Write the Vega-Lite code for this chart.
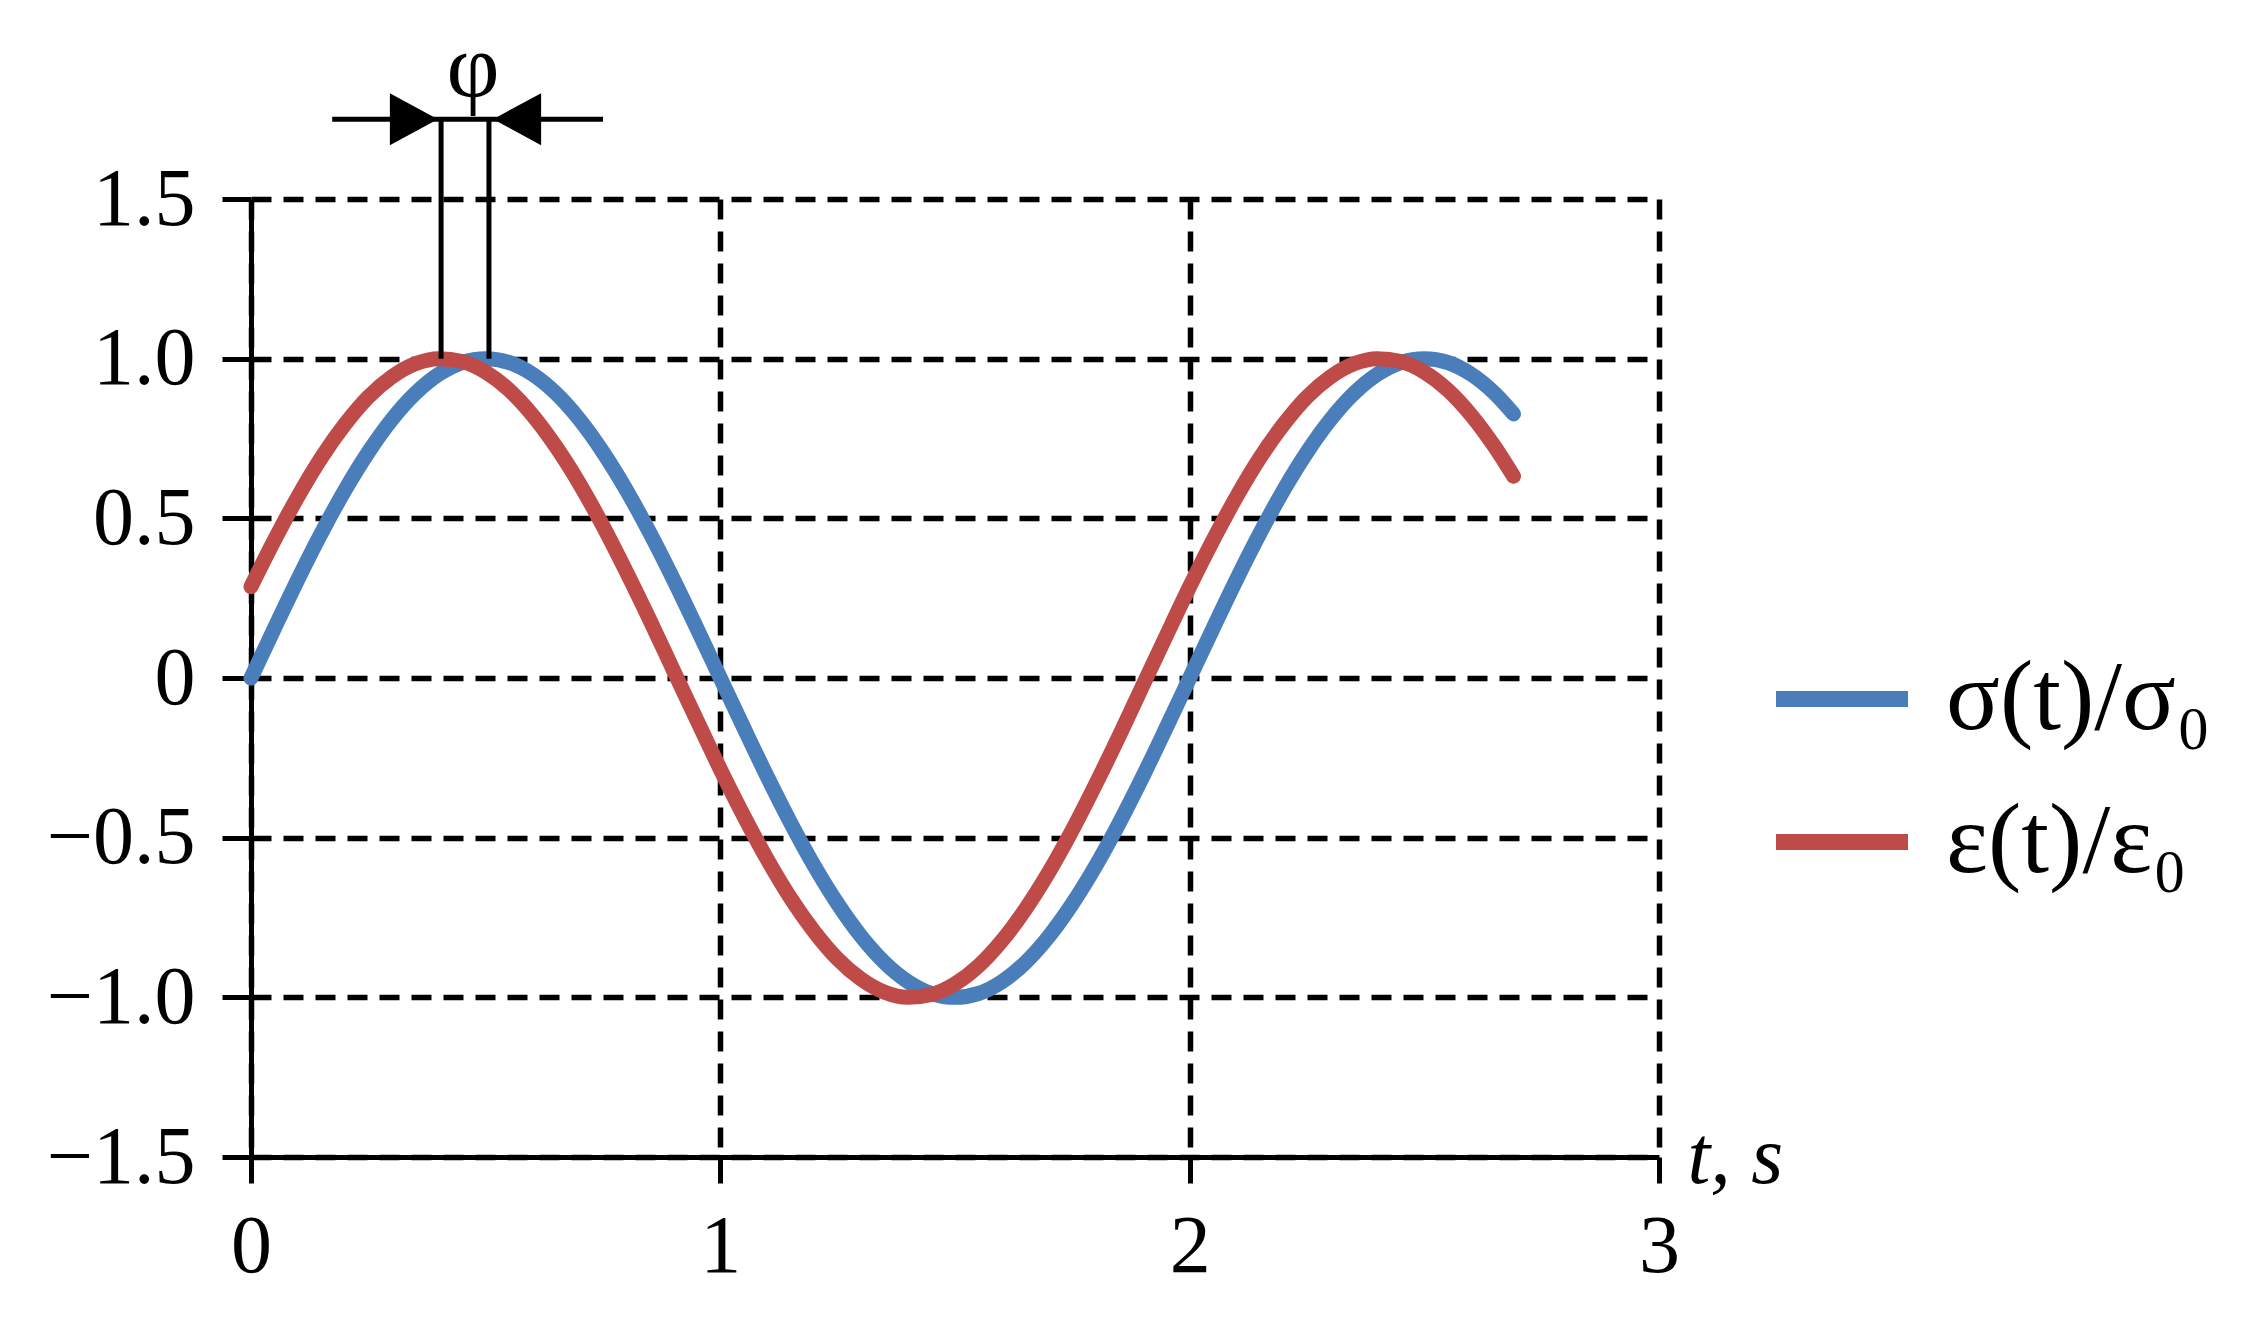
{
  "$schema": "https://vega.github.io/schema/vega-lite/v6.json",
  "autosize": {"type": "none"},
  "width": 1408,
  "height": 958,
  "padding": {"left": 251, "top": 199, "right": 607, "bottom": 163},
  "background": "white",
  "config": {
    "view": {"stroke": null},
    "font": "Liberation Serif"
  },
  "data": {
    "values": [
      {"t": 0.00, "sigma": 0.000, "eps": 0.286},
      {"t": 0.05, "sigma": 0.156, "eps": 0.432},
      {"t": 0.10, "sigma": 0.309, "eps": 0.568},
      {"t": 0.15, "sigma": 0.454, "eps": 0.690},
      {"t": 0.20, "sigma": 0.588, "eps": 0.794},
      {"t": 0.25, "sigma": 0.707, "eps": 0.880},
      {"t": 0.30, "sigma": 0.809, "eps": 0.943},
      {"t": 0.35, "sigma": 0.891, "eps": 0.984},
      {"t": 0.40, "sigma": 0.951, "eps": 1.000},
      {"t": 0.45, "sigma": 0.988, "eps": 0.991},
      {"t": 0.50, "sigma": 1.000, "eps": 0.958},
      {"t": 0.55, "sigma": 0.988, "eps": 0.902},
      {"t": 0.60, "sigma": 0.951, "eps": 0.823},
      {"t": 0.65, "sigma": 0.891, "eps": 0.724},
      {"t": 0.70, "sigma": 0.809, "eps": 0.608},
      {"t": 0.75, "sigma": 0.707, "eps": 0.476},
      {"t": 0.80, "sigma": 0.588, "eps": 0.332},
      {"t": 0.85, "sigma": 0.454, "eps": 0.181},
      {"t": 0.90, "sigma": 0.309, "eps": 0.024},
      {"t": 0.95, "sigma": 0.156, "eps": -0.132},
      {"t": 1.00, "sigma": 0.000, "eps": -0.286},
      {"t": 1.05, "sigma": -0.156, "eps": -0.432},
      {"t": 1.10, "sigma": -0.309, "eps": -0.568},
      {"t": 1.15, "sigma": -0.454, "eps": -0.690},
      {"t": 1.20, "sigma": -0.588, "eps": -0.794},
      {"t": 1.25, "sigma": -0.707, "eps": -0.880},
      {"t": 1.30, "sigma": -0.809, "eps": -0.943},
      {"t": 1.35, "sigma": -0.891, "eps": -0.984},
      {"t": 1.40, "sigma": -0.951, "eps": -1.000},
      {"t": 1.45, "sigma": -0.988, "eps": -0.991},
      {"t": 1.50, "sigma": -1.000, "eps": -0.958},
      {"t": 1.55, "sigma": -0.988, "eps": -0.902},
      {"t": 1.60, "sigma": -0.951, "eps": -0.823},
      {"t": 1.65, "sigma": -0.891, "eps": -0.724},
      {"t": 1.70, "sigma": -0.809, "eps": -0.608},
      {"t": 1.75, "sigma": -0.707, "eps": -0.476},
      {"t": 1.80, "sigma": -0.588, "eps": -0.332},
      {"t": 1.85, "sigma": -0.454, "eps": -0.181},
      {"t": 1.90, "sigma": -0.309, "eps": -0.024},
      {"t": 1.95, "sigma": -0.156, "eps": 0.132},
      {"t": 2.00, "sigma": 0.000, "eps": 0.286},
      {"t": 2.05, "sigma": 0.156, "eps": 0.432},
      {"t": 2.10, "sigma": 0.309, "eps": 0.568},
      {"t": 2.15, "sigma": 0.454, "eps": 0.690},
      {"t": 2.20, "sigma": 0.588, "eps": 0.794},
      {"t": 2.25, "sigma": 0.707, "eps": 0.880},
      {"t": 2.30, "sigma": 0.809, "eps": 0.943},
      {"t": 2.35, "sigma": 0.891, "eps": 0.984},
      {"t": 2.40, "sigma": 0.951, "eps": 1.000},
      {"t": 2.45, "sigma": 0.988, "eps": 0.991},
      {"t": 2.50, "sigma": 1.000, "eps": 0.958},
      {"t": 2.55, "sigma": 0.988, "eps": 0.902},
      {"t": 2.60, "sigma": 0.951, "eps": 0.823},
      {"t": 2.65, "sigma": 0.891, "eps": 0.724},
      {"t": 2.69, "sigma": 0.827, "eps": 0.632}
    ]
  },
  "encoding": {
    "x": {
      "field": "t", "type": "quantitative",
      "scale": {"domain": [0, 3], "nice": false, "zero": false},
      "axis": {
        "values": [0, 1, 2, 3],
        "format": "d",
        "title": "t, s",
        "titleFont": "Liberation Serif",
        "titleFontSize": 82,
        "titleFontWeight": "normal",
        "titleFontStyle": "italic",
        "titleColor": "black",
        "titleX": 1436,
        "titleY": 25,
        "titleAlign": "left",
        "titleBaseline": "alphabetic",
        "titleAngle": 0,
        "domainColor": "black",
        "domainWidth": 5,
        "tickColor": "black",
        "tickWidth": 5,
        "tickSize": 26,
        "labelFont": "Liberation Serif",
        "labelFontSize": 82,
        "labelColor": "black",
        "labelPadding": 23,
        "labelBaseline": "top",
        "labelFlush": false,
        "labelOverlap": false,
        "grid": true,
        "gridColor": "black",
        "gridWidth": 5.5,
        "gridDash": [20, 12],
        "gridOpacity": 1,
        "zindex": 0
      }
    },
    "y": {
      "field": "v", "type": "quantitative",
      "scale": {"domain": [-1.5, 1.5], "nice": false, "zero": false},
      "axis": {
        "values": [-1.5, -1, -0.5, 0, 0.5, 1, 1.5],
        "labelExpr": "datum.value == 0 ? '0' : format(datum.value, '.1f')",
        "title": null,
        "domainColor": "black",
        "domainWidth": 5,
        "tickColor": "black",
        "tickWidth": 5,
        "tickSize": 29,
        "labelFont": "Liberation Serif",
        "labelFontSize": 82,
        "labelColor": "black",
        "labelPadding": 27,
        "labelFlush": false,
        "labelOverlap": false,
        "grid": true,
        "gridColor": "black",
        "gridWidth": 5.5,
        "gridDash": [20, 12],
        "gridOpacity": 1,
        "zindex": 0
      }
    }
  },
  "layer": [
    {
      "transform": [{"fold": ["sigma", "eps"], "as": ["series", "v"]}],
      "mark": {"type": "line", "strokeWidth": 15, "strokeCap": "round", "strokeJoin": "round", "interpolate": "monotone"},
      "encoding": {
        "color": {
          "field": "series", "type": "nominal",
          "scale": {"domain": ["sigma", "eps"], "range": ["#4A7EBB", "#BE4B48"]},
          "legend": {
            "orient": "none",
            "legendX": 1517,
            "legendY": 426,
            "title": null,
            "padding": 0,
            "symbolType": "stroke",
            "symbolStrokeWidth": 16,
            "symbolSize": 17424,
            "labelFont": "Liberation Serif",
            "labelFontSize": 100,
            "labelColor": "black",
            "labelOffset": 30,
            "labelLimit": 700,
            "rowPadding": 19,
            "labelExpr": "datum.label == 'sigma' ? 'σ(t)/σ₀' : 'ε(t)/ε₀'"
          }
        }
      }
    },
    {
      "data": {"values": [
        {"t": 0.405, "v": 1.0, "v2": 1.75},
        {"t": 0.507, "v": 1.0, "v2": 1.75}
      ]},
      "mark": {"type": "rule", "color": "black", "strokeWidth": 5},
      "encoding": {"y2": {"field": "v2"}}
    },
    {
      "data": {"values": [
        {"t": 0.173, "t2": 0.75, "v": 1.75}
      ]},
      "mark": {"type": "rule", "color": "black", "strokeWidth": 5},
      "encoding": {"x2": {"field": "t2"}}
    },
    {
      "data": {"values": [
        {"t": 0.347, "v": 1.75, "dir": "right"},
        {"t": 0.567, "v": 1.75, "dir": "left"}
      ]},
      "mark": {"type": "point", "filled": true, "color": "black", "opacity": 1, "size": 2704, "strokeWidth": 0},
      "encoding": {
        "shape": {
          "field": "dir", "type": "nominal",
          "scale": {"domain": ["right", "left"], "range": ["M-0.923,-1L0.923,0L-0.923,1Z", "M0.923,-1L-0.923,0L0.923,1Z"]},
          "legend": null
        }
      }
    },
    {
      "data": {"values": [
        {"t": 0.473, "v": 1.82, "label": "φ"}
      ]},
      "mark": {"type": "text", "font": "Liberation Serif", "fontSize": 92, "color": "black", "align": "center", "baseline": "alphabetic"},
      "encoding": {"text": {"field": "label"}}
    }
  ]
}
